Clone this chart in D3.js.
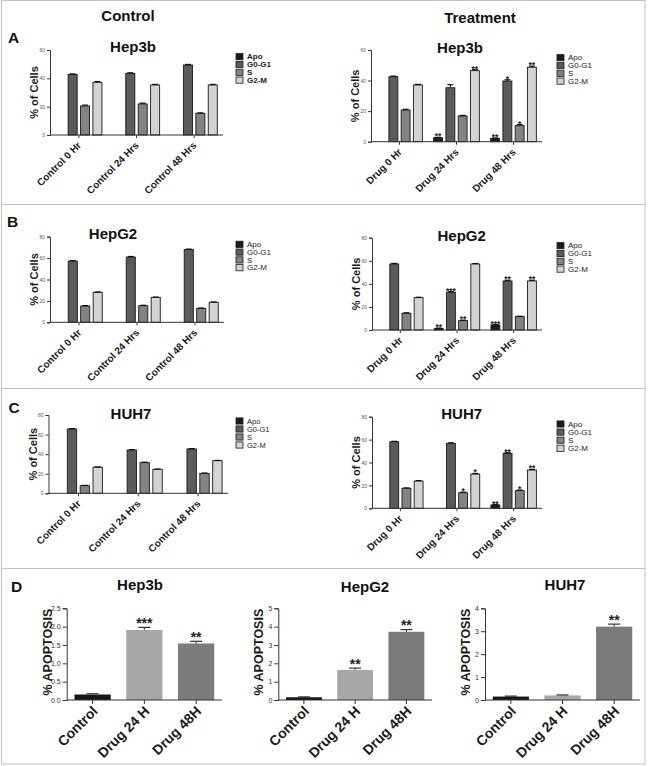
<!DOCTYPE html>
<html><head><meta charset="utf-8">
<script src="https://cdn.jsdelivr.net/npm/d3@7"></script>
<style>body{margin:0;background:#fff}svg{display:block}text{font-family:"Liberation Sans",Arial,sans-serif}</style>
</head><body><svg id="chart" width="650" height="766"></svg>
<script>
// ---------- data ----------
const phases = ["Apo", "G0-G1", "S", "G2-M"];
const controlGroups = ["Control 0 Hr", "Control 24 Hrs", "Control 48 Hrs"];
const drugGroups = ["Drug 0 Hr", "Drug 24 Hrs", "Drug 48 Hrs"];
const cycleTicks60 = [0, 20, 40, 60];
const cycleTicks80 = [0, 20, 40, 60, 80];

// rows = groups, columns = phases [Apo, G0-G1, S, G2-M]
const hep3bControl = [[0, 42.8, 20.5, 37.2], [0, 43.5, 21.9, 35.3], [0, 49.4, 15.3, 35.3]];
const hep3bControlErr = [[0, 0.3, 0.6, 0.5], [0, 0.4, 0.6, 0.4], [0, 0.4, 0.3, 0.4]];
const hep3bDrug = [[0, 42.5, 20.7, 37.1], [2.6, 35.3, 16.8, 46.5], [2.2, 39.7, 10.5, 48.7]];
const hep3bDrugErr = [[0, 0.4, 0.5, 0.4], [0.2, 2.0, 0.4, 0.6], [0.2, 0.8, 0.7, 0.7]];
const hep3bDrugSig = [["", "", "", ""], ["**", "", "", "**"], ["**", "*", "*", "**"]];

const hepg2Control = [[0, 57.2, 15.2, 28.0], [0, 61.0, 15.5, 23.3], [0, 68.1, 13.0, 18.7]];
const hepg2ControlErr = [[0, 0.5, 0.4, 0.4], [0, 0.5, 0.4, 0.3], [0, 0.3, 0.3, 0.3]];
const hepg2Drug = [[0, 57.2, 14.5, 28.0], [1.4, 32.7, 8.1, 57.2], [4.3, 42.5, 11.6, 42.5]];
const hepg2DrugErr = [[0, 0.5, 0.4, 0.4], [0.2, 0.5, 0.4, 0.4], [0.3, 0.6, 0.3, 0.6]];
const hepg2DrugSig = [["", "", "", ""], ["**", "***", "**", ""], ["***", "**", "", "**"]];

const huh7Control = [[0, 65.7, 7.8, 26.6], [0, 44.2, 31.3, 24.5], [0, 45.3, 20.4, 33.3]];
const huh7ControlErr = [[0, 0.4, 0.3, 0.4], [0, 0.4, 0.5, 0.3], [0, 0.4, 0.3, 0.3]];
const huh7Drug = [[0, 58.1, 17.5, 23.8], [0, 56.7, 13.6, 29.9], [2.9, 48.0, 15.4, 33.4]];
const huh7DrugErr = [[0, 0.4, 0.3, 0.4], [0, 0.5, 0.5, 0.5], [0.3, 0.5, 0.5, 0.6]];
const huh7DrugSig = [["", "", "", ""], ["", "", "*", "*"], ["**", "**", "*", "**"]];

const apoCategories = ["Control", "Drug 24 H", "Drug 48H"];
const hep3bApo = [0.15, 1.91, 1.54];
const hep3bApoErr = [0.02, 0.07, 0.06];
const hep3bApoSig = ["", "***", "**"];
const hep3bApoTicks = [0, 0.5, 1.0, 1.5, 2.0, 2.5];
const hepg2Apo = [0.15, 1.64, 3.72];
const hepg2ApoErr = [0.02, 0.1, 0.12];
const hepg2ApoSig = ["", "**", "**"];
const hepg2ApoTicks = [0, 1, 2, 3, 4, 5];
const huh7Apo = [0.15, 0.2, 3.2];
const huh7ApoErr = [0.02, 0.02, 0.11];
const huh7ApoSig = ["", "", "**"];
const huh7ApoTicks = [0, 1, 2, 3, 4];

// ---------- styles ----------
const phaseColors = ["#1b1b1b", "#5b5b5b", "#838383", "#d3d3d3"];
const apoColors = ["#171717", "#a7a7a7", "#7b7b7b"];
const FONT = '"Liberation Sans", Arial, sans-serif';

const svg = d3.select("#chart");
svg.append("rect").attr("x", 0).attr("y", 0).attr("width", 650).attr("height", 766).attr("fill", "#fff");

// frame
const frame = svg.append("g").attr("stroke", "#c2c2c2").attr("fill", "none").attr("stroke-width", 1);
frame.append("rect").attr("x", 1.5).attr("y", 0.5).attr("width", 643.5).attr("height", 763.5);
[204.5, 388.5, 568.5].forEach(y => frame.append("line").attr("x1", 1.5).attr("x2", 645).attr("y1", y).attr("y2", y));

function txt(s, x, y, size, weight, anchor) {
  return svg.append("text").attr("x", x).attr("y", y).attr("font-size", size)
    .attr("font-weight", weight || "normal").attr("text-anchor", anchor || "start")
    .attr("fill", "#111").text(s);
}

// headings & panel letters
txt("Control", 128, 20.5, 15, "bold", "middle");
txt("Treatment", 480, 22.5, 15, "bold", "middle");
txt("A", 8, 42.5, 15.5, "bold");
txt("B", 7, 227.3, 15.5, "bold");
txt("C", 8.5, 413.3, 15.5, "bold");
txt("D", 11, 591.5, 15.5, "bold");

function drawCycle(o) {
  const g = svg.append("g");
  const x = d3.scaleBand().domain(o.groups).range([o.x0, o.x1]).paddingInner(0).paddingOuter(0);
  const xi = d3.scaleBand().domain(phases).range([0, x.bandwidth()]).paddingInner(0.27).paddingOuter(0.46);
  const y = d3.scaleLinear().domain([0, o.max]).range([o.yZero, o.yTop]);

  // bars
  o.groups.forEach((grp, gi) => {
    phases.forEach((ph, pi) => {
      const v = o.values[gi][pi];
      if (v <= 0) return;
      const bx = x(grp) + xi(ph);
      g.append("rect").attr("x", bx).attr("y", y(v)).attr("width", xi.bandwidth())
        .attr("height", o.yZero - y(v)).attr("fill", phaseColors[pi])
        .attr("stroke", "#1a1a1a").attr("stroke-width", 0.9);
      const e = o.errors[gi][pi];
      const cx = bx + xi.bandwidth() / 2;
      const top = y(v + e);
      g.append("line").attr("x1", cx).attr("x2", cx).attr("y1", y(v)).attr("y2", top)
        .attr("stroke", "#111").attr("stroke-width", 1);
      g.append("line").attr("x1", cx - 3).attr("x2", cx + 3).attr("y1", top).attr("y2", top)
        .attr("stroke", "#111").attr("stroke-width", 1.2);
      if (o.sig && o.sig[gi][pi]) {
        g.append("text").attr("x", cx).attr("y", top + 2).attr("text-anchor", "middle")
          .attr("font-size", 8.5).attr("font-weight", "bold").attr("fill", "#222").text(o.sig[gi][pi]);
      }
    });
  });

  // y axis
  const ya = g.append("g").attr("transform", `translate(${o.x0},0)`)
    .call(d3.axisLeft(y).tickValues(o.ticks).tickSize(3).tickPadding(2).tickFormat(d3.format("d")));
  ya.select(".domain").attr("stroke", "#333");
  ya.selectAll(".tick line").attr("stroke", "#333");
  ya.selectAll(".tick text").attr("font-size", 5).attr("fill", "#555").attr("font-family", FONT);

  // x axis
  const xa = g.append("g").attr("transform", `translate(0,${o.yZero})`)
    .call(d3.axisBottom(x).tickSize(3).tickFormat(""));
  xa.select(".domain").attr("stroke", "#333").attr("d", `M${o.x0},0H${o.x1}`);
  xa.selectAll(".tick line").attr("stroke", "#333");
  o.groups.forEach(grp => {
    const cx = x(grp) + x.bandwidth() / 2;
    g.append("text").attr("transform", `translate(${cx + 3},${o.yZero + 11}) rotate(-45)`)
      .attr("text-anchor", "end").attr("font-size", 10).attr("font-weight", "bold")
      .attr("fill", "#1a1a1a").text(grp);
  });

  // y label
  g.append("text").attr("transform", `translate(${o.x0 - 12},${(o.yZero + o.yTop) / 2}) rotate(-90)`)
    .attr("text-anchor", "middle").attr("font-size", 11).attr("font-weight", "bold")
    .attr("fill", "#1a1a1a").text("% of Cells");

  // title
  txt(o.title, o.titleX, o.titleY, 15, "bold", "middle");

  // legend
  phases.forEach((ph, pi) => {
    const ly = o.legY + pi * o.legStep;
    g.append("rect").attr("x", o.legX).attr("y", ly - 3.1).attr("width", 7).attr("height", 6.2)
      .attr("fill", phaseColors[pi]).attr("stroke", "#1a1a1a").attr("stroke-width", 0.8);
    g.append("text").attr("x", o.legX + 11).attr("y", ly + 2.6).attr("font-size", o.legFont || 8)
      .attr("font-weight", o.legBold ? "bold" : "normal").attr("fill", "#222").text(ph);
  });
}

drawCycle({groups: controlGroups, values: hep3bControl, errors: hep3bControlErr, sig: null,
  x0: 50, x1: 223, yTop: 50, yZero: 135, max: 60, ticks: cycleTicks60,
  title: "Hep3b", titleX: 133, titleY: 52, legX: 236, legY: 56.7, legStep: 7.8, legBold: true});
drawCycle({groups: drugGroups, values: hep3bDrug, errors: hep3bDrugErr, sig: hep3bDrugSig,
  x0: 371, x1: 542, yTop: 50, yZero: 141.7, max: 60, ticks: cycleTicks60,
  title: "Hep3b", titleX: 460, titleY: 53, legX: 557, legY: 57.7, legStep: 7.8});
drawCycle({groups: controlGroups, values: hepg2Control, errors: hepg2ControlErr, sig: null,
  x0: 50, x1: 224, yTop: 236.7, yZero: 322.3, max: 80, ticks: cycleTicks80,
  title: "HepG2", titleX: 113, titleY: 238.5, legX: 236, legY: 244.3, legStep: 7.8});
drawCycle({groups: drugGroups, values: hepg2Drug, errors: hepg2DrugErr, sig: hepg2DrugSig,
  x0: 372, x1: 542, yTop: 237.7, yZero: 330, max: 80, ticks: cycleTicks80,
  title: "HepG2", titleX: 461.7, titleY: 240.5, legX: 557, legY: 245.7, legStep: 7.8});
drawCycle({groups: controlGroups, values: huh7Control, errors: huh7ControlErr, sig: null,
  x0: 48.5, x1: 228, yTop: 415, yZero: 493.3, max: 80, ticks: cycleTicks80,
  title: "HUH7", titleX: 131, titleY: 419, legX: 236, legY: 421, legStep: 8, legFont: 7.5});
drawCycle({groups: drugGroups, values: huh7Drug, errors: huh7DrugErr, sig: huh7DrugSig,
  x0: 372, x1: 542, yTop: 416.7, yZero: 508.3, max: 80, ticks: cycleTicks80,
  title: "HUH7", titleX: 461.7, titleY: 418.5, legX: 557, legY: 424, legStep: 8.1});

function drawApo(o) {
  const g = svg.append("g");
  const x = d3.scaleBand().domain(apoCategories).range([o.x0, o.x1]).paddingInner(0.3).paddingOuter(0.15);
  const y = d3.scaleLinear().domain([0, o.max]).range([o.yZero, o.yTop]);
  apoCategories.forEach((c, i) => {
    const v = o.values[i];
    const bx = x(c);
    g.append("rect").attr("x", bx).attr("y", y(v)).attr("width", x.bandwidth())
      .attr("height", o.yZero - y(v)).attr("fill", apoColors[i]);
    const cx = bx + x.bandwidth() / 2;
    const top = y(v + o.errors[i]);
    g.append("line").attr("x1", cx).attr("x2", cx).attr("y1", y(v)).attr("y2", top).attr("stroke", "#333");
    g.append("line").attr("x1", cx - 6).attr("x2", cx + 6).attr("y1", top).attr("y2", top).attr("stroke", "#333").attr("stroke-width", 1.2);
    if (o.sig[i]) {
      g.append("text").attr("x", cx).attr("y", top + 0.5).attr("text-anchor", "middle")
        .attr("font-size", 14).attr("font-weight", "bold").attr("fill", "#222").text(o.sig[i]);
    }
  });
  const ya = g.append("g").attr("transform", `translate(${o.x0},0)`)
    .call(d3.axisLeft(y).tickValues(o.ticks).tickSize(4).tickPadding(2).tickFormat(d3.format(o.fmt)));
  ya.select(".domain").attr("stroke", "#333");
  ya.selectAll(".tick line").attr("stroke", "#333");
  ya.selectAll(".tick text").attr("font-size", 7).attr("fill", "#333").attr("font-family", FONT);
  const xa = g.append("g").attr("transform", `translate(0,${o.yZero})`)
    .call(d3.axisBottom(x).tickSize(4).tickFormat(""));
  xa.select(".domain").attr("stroke", "#333").attr("d", `M${o.x0},0H${o.x1}`);
  xa.selectAll(".tick line").attr("stroke", "#333");
  apoCategories.forEach(c => {
    const cx = x(c) + x.bandwidth() / 2;
    g.append("text").attr("transform", `translate(${cx + 6},${o.yZero + 12}) rotate(-45)`)
      .attr("text-anchor", "end").attr("font-size", 14).attr("font-weight", "bold")
      .attr("fill", "#1a1a1a").text(c);
  });
  g.append("text").attr("transform", `translate(${o.x0 - 15},${(o.yZero + o.yTop) / 2 - 2}) rotate(-90)`)
    .attr("text-anchor", "middle").attr("font-size", 12.5).attr("font-weight", "bold")
    .attr("fill", "#1a1a1a").text("% APOPTOSIS");
  txt(o.title, o.titleX, o.titleY, 15, "bold", "middle");
}

drawApo({values: hep3bApo, errors: hep3bApoErr, sig: hep3bApoSig, ticks: hep3bApoTicks, fmt: ".1f",
  x0: 66.7, x1: 222, yTop: 608.3, yZero: 700, max: 2.5, title: "Hep3b", titleX: 140, titleY: 590});
drawApo({values: hepg2Apo, errors: hepg2ApoErr, sig: hepg2ApoSig, ticks: hepg2ApoTicks, fmt: "d",
  x0: 278.3, x1: 432, yTop: 608.3, yZero: 700, max: 5, title: "HepG2", titleX: 365, titleY: 592});
drawApo({values: huh7Apo, errors: huh7ApoErr, sig: huh7ApoSig, ticks: huh7ApoTicks, fmt: "d",
  x0: 485, x1: 640, yTop: 608.3, yZero: 700, max: 4, title: "HUH7", titleX: 565, titleY: 590});
</script></body></html>
